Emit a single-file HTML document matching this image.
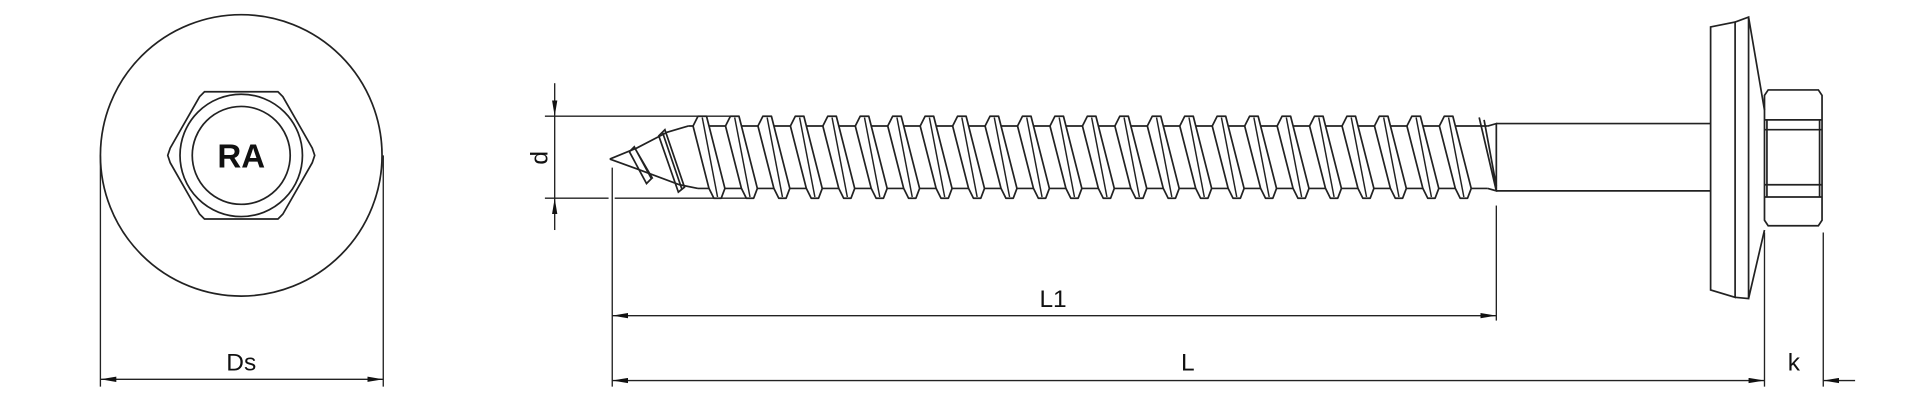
<!DOCTYPE html>
<html><head><meta charset="utf-8"><style>html,body{margin:0;padding:0;background:#fff}svg{display:block}</style></head>
<body>
<svg width="1920" height="416" viewBox="0 0 1568 340" preserveAspectRatio="none" xmlns="http://www.w3.org/2000/svg">
<defs>
<marker id="a" viewBox="0 0 12 4" refX="12" refY="2" markerWidth="13" markerHeight="4.5" markerUnits="userSpaceOnUse" orient="auto-start-reverse"><path d="M0,0 L12,2 L0,4 Z" fill="#111"/></marker>
<g id="t"><polygon points="-4,103 0,95 7,95 22,154 19,162 13,162 9,154" fill="#fff" stroke="#222" stroke-width="1.4" stroke-linejoin="round"/><line x1="3.5" y1="96" x2="16" y2="161" stroke="#222" stroke-width="1.2"/></g>
</defs>
<g fill="none" stroke="#222" stroke-width="1.4">
<circle cx="197" cy="127" r="115"/>
<polygon points="167,75 227,75 231,79 255,121 257,127 255,133 231,175 227,179 167,179 163,175 139,133 137,127 139,121 163,79"/>
<circle cx="197" cy="127" r="50"/>
<circle cx="197" cy="127" r="40"/>
<line x1="82" y1="127" x2="82" y2="316" stroke-width="1.1"/>
<line x1="313" y1="127" x2="313" y2="316" stroke-width="1.1"/>
<line x1="82" y1="310" x2="313" y2="310" stroke-width="1.1" marker-start="url(#a)" marker-end="url(#a)"/>
<line x1="453" y1="68" x2="453" y2="95" stroke-width="1.1" marker-end="url(#a)"/>
<line x1="453" y1="95" x2="453" y2="162" stroke-width="1.1"/>
<line x1="453" y1="188" x2="453" y2="162" stroke-width="1.1" marker-end="url(#a)"/>
<line x1="445" y1="95" x2="600" y2="95" stroke-width="1.1"/>
<line x1="445" y1="162" x2="497" y2="162" stroke-width="1.1"/>
<line x1="502" y1="162" x2="612" y2="162" stroke-width="1.1"/>
<line x1="500" y1="137" x2="500" y2="316" stroke-width="1.1"/>
<line x1="1222" y1="168" x2="1222" y2="262" stroke-width="1.1"/>
<line x1="500" y1="258" x2="1222" y2="258" stroke-width="1.1" marker-start="url(#a)" marker-end="url(#a)"/>
<line x1="500" y1="311" x2="1441" y2="311" stroke-width="1.1" marker-start="url(#a)" marker-end="url(#a)"/>
<line x1="1441" y1="190" x2="1441" y2="316" stroke-width="1.1"/>
<line x1="1489" y1="190" x2="1489" y2="316" stroke-width="1.1"/>
<line x1="1515" y1="311" x2="1489" y2="311" stroke-width="1.1" marker-end="url(#a)"/>
<line x1="562" y1="103" x2="1215" y2="103"/>
<line x1="570" y1="154" x2="1215" y2="154"/>
<path d="M498,130 L520,121 L545,108 L562,103 M498,130 L520,138 L555,151 L570,154"/>
<path d="M514,124 L518,120 L532,146 L528,150 Z M519,122 L533,146"/>
<path d="M538,111 L543,106 L559,153 L554,157 Z M541,108 L557,155"/>
<path d="M1215,103 L1222,101 L1222,156 L1215,154"/>
<path d="M1208,96 L1222,156 M1212,98 L1222,152"/>
<line x1="1222" y1="101" x2="1397" y2="101"/>
<line x1="1222" y1="156" x2="1397" y2="156"/>
<path d="M1397,22 L1417,18 L1417,243 L1397,237 Z"/>
<path d="M1417,18 L1428,14 L1428,244 L1417,243"/>
<path d="M1428,14 L1441,90 M1428,244 L1441,188"/>
<path d="M1444,73.5 L1485,73.5 L1488,78 L1488,180 L1485,184.5 L1444,184.5 L1441,180 L1441,78 Z"/>
<line x1="1441" y1="98" x2="1488" y2="98"/>
<line x1="1441" y1="106" x2="1488" y2="106"/>
<line x1="1441" y1="151" x2="1488" y2="151"/>
<line x1="1441" y1="161" x2="1488" y2="161"/>
<line x1="1443" y1="98" x2="1443" y2="161"/>
<line x1="1486" y1="98" x2="1486" y2="161"/>
</g>
<g>
<use href="#t" x="570"/><use href="#t" x="596.5"/><use href="#t" x="623"/><use href="#t" x="649.5"/><use href="#t" x="676"/>
<use href="#t" x="702.5"/><use href="#t" x="729"/><use href="#t" x="755.5"/><use href="#t" x="782"/><use href="#t" x="808.5"/>
<use href="#t" x="835"/><use href="#t" x="861.5"/><use href="#t" x="888"/><use href="#t" x="914.5"/><use href="#t" x="941"/>
<use href="#t" x="967.5"/><use href="#t" x="994"/><use href="#t" x="1020.5"/><use href="#t" x="1047"/><use href="#t" x="1073.5"/>
<use href="#t" x="1100"/><use href="#t" x="1126.5"/><use href="#t" x="1153"/><use href="#t" x="1179.5"/>
</g>
<g font-family="Liberation Sans, sans-serif" fill="#111" text-anchor="middle">
<text x="197" y="137" font-size="27" font-weight="bold">RA</text>
<text x="197" y="303" font-size="20">Ds</text>
<text x="860" y="251" font-size="20">L1</text>
<text x="970" y="303" font-size="20">L</text>
<text x="1465" y="303" font-size="20">k</text>
<text x="0" y="0" font-size="20" transform="translate(447,129) rotate(-90)">d</text>
</g>
</svg>
</body></html>
